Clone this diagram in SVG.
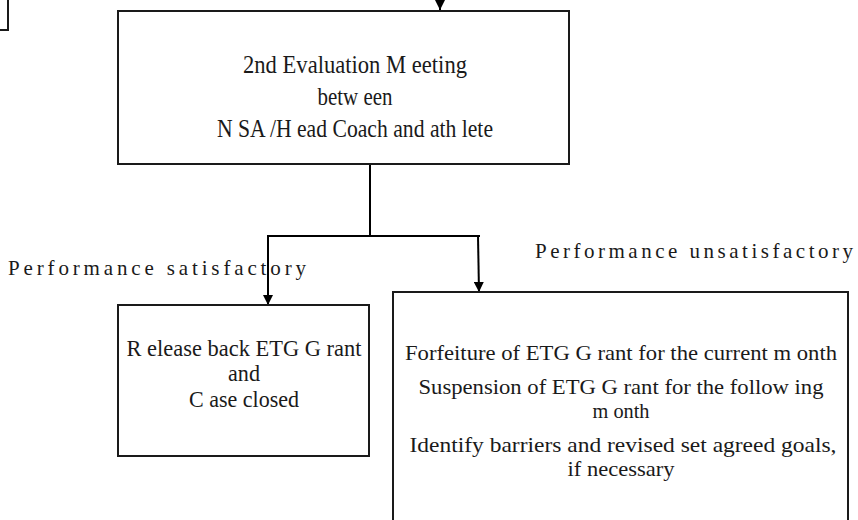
<svg xmlns="http://www.w3.org/2000/svg" width="858" height="520" viewBox="0 0 858 520">
<defs>
<marker id="ah" viewBox="0 0 10 10" refX="10" refY="5" markerWidth="10" markerHeight="10" markerUnits="userSpaceOnUse" orient="auto">
<path d="M0,0 L10,5 L0,10 Z" fill="#000"/>
</marker>
<style>
.box{fill:#fff;stroke:#1a1a1a;stroke-width:2}
.ln{fill:none;stroke:#000;stroke-width:2}
.t{fill:#1a1a1a;text-anchor:middle}
.lab{fill:#1a1a1a;font-size:21px}
</style>
</defs>
<rect width="858" height="520" fill="#fff"/>
<g id="edge-box">
<rect class="box" x="-10" y="-10" width="18" height="40"/>
</g>
<g id="connectors">
<line class="ln" x1="440" y1="-6" x2="440" y2="10" marker-end="url(#ah)"/>
<line class="ln" x1="370" y1="164" x2="370" y2="237"/>
<line class="ln" x1="267" y1="236" x2="480" y2="236"/>
<line class="ln" x1="268" y1="236" x2="268" y2="305" marker-end="url(#ah)"/>
<line class="ln" x1="478" y1="236" x2="479" y2="292" marker-end="url(#ah)"/>
</g>
<g font-family="Liberation Serif, DejaVu Serif, serif">
<g id="main">
<rect class="box" x="118" y="11" width="451" height="153"/>
<text class="t" font-size="25" x="355" y="73" textLength="224" lengthAdjust="spacingAndGlyphs">2nd Evaluation M eeting</text>
<text class="t" font-size="25" x="355" y="105" textLength="75" lengthAdjust="spacingAndGlyphs">betw een</text>
<text class="t" font-size="25" x="355" y="137" textLength="276" lengthAdjust="spacingAndGlyphs">N SA /H ead Coach and ath lete</text>
</g>
<g id="label-sat">
<text class="lab" x="8" y="275" textLength="298" lengthAdjust="spacing">Performance satisfactory</text>
</g>
<g id="label-unsat">
<text class="lab" x="535" y="258" textLength="318" lengthAdjust="spacing">Performance unsatisfactory</text>
</g>
<g id="satisfactory">
<rect class="box" x="118" y="305" width="251" height="151"/>
<text class="t" font-size="23" x="244" y="356" textLength="235" lengthAdjust="spacingAndGlyphs">R elease back ETG G rant</text>
<text class="t" font-size="23" x="244" y="381" textLength="32" lengthAdjust="spacingAndGlyphs">and</text>
<text class="t" font-size="23" x="244" y="407" textLength="110" lengthAdjust="spacingAndGlyphs">C ase closed</text>
</g>
<g id="unsatisfactory">
<rect class="box" x="393" y="292" width="455" height="240"/>
<text class="t" font-size="21" x="621" y="360" textLength="432" lengthAdjust="spacingAndGlyphs">Forfeiture of ETG G rant for the current m onth</text>
<text class="t" font-size="21" x="621" y="394" textLength="405" lengthAdjust="spacingAndGlyphs">Suspension of ETG G rant for the follow ing</text>
<text class="t" font-size="21" x="621" y="418" textLength="57" lengthAdjust="spacingAndGlyphs">m onth</text>
<text class="t" font-size="21" x="623" y="452" textLength="427" lengthAdjust="spacingAndGlyphs">Identify barriers and revised set agreed goals,</text>
<text class="t" font-size="21" x="621" y="476" textLength="107" lengthAdjust="spacingAndGlyphs">if necessary</text>
</g>
</g>
</svg>
